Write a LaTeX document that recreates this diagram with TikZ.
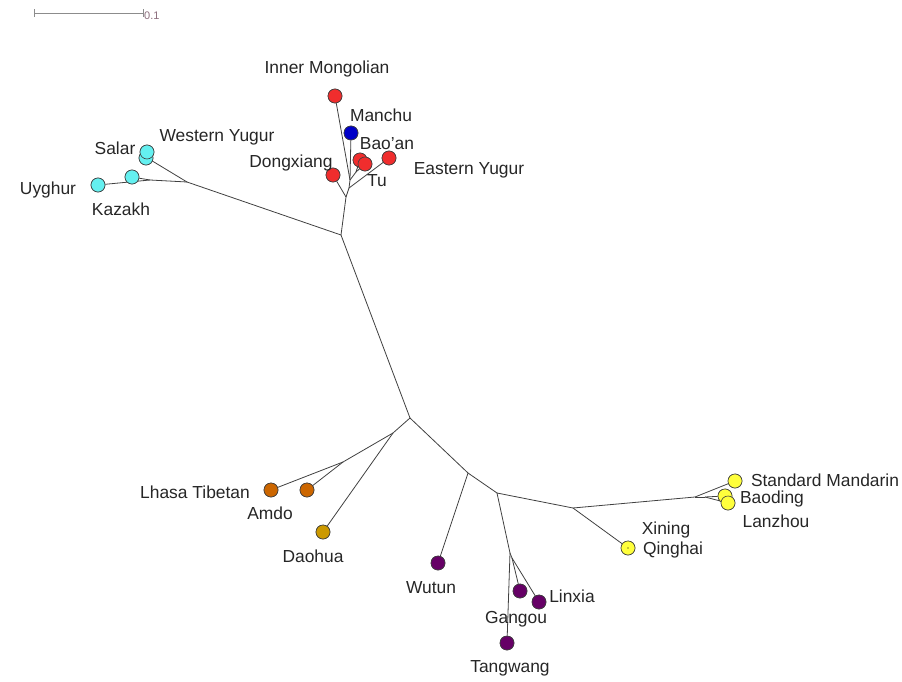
\documentclass[tikz,border=0pt]{standalone}
\usepackage{fontspec}
\setmainfont{Liberation Sans}
\definecolor{cyf}{RGB}{100,240,240}
\definecolor{rdf}{RGB}{240,45,45}
\definecolor{blf}{RGB}{0,0,200}
\definecolor{tbf}{RGB}{204,102,0}
\definecolor{dhf}{RGB}{204,153,0}
\definecolor{puf}{RGB}{102,0,102}
\definecolor{ylf}{RGB}{255,255,60}
\definecolor{sbc}{RGB}{140,140,140}
\definecolor{sbt}{RGB}{140,110,125}
\begin{document}
\begin{tikzpicture}[x=1pt,y=-1pt,
  br/.style={draw=black!75,line width=0.8pt},
  leaf/.style={circle,draw=black!75,line width=0.6pt,minimum size=14pt,inner sep=0pt},
  lab/.style={font=\fontsize{17.4}{20}\selectfont,text=black!85,inner sep=0pt}]
\useasboundingbox (0,0) rectangle (902,682);
% scale bar
\coordinate (sb1) at (34,13);
\coordinate (sb2) at (143,13);
\draw[draw=sbc,line width=0.8pt] (sb1) -- (sb2);
\draw[draw=sbc,line width=0.8pt] ([yshift=-4]sb1) -- ([yshift=4]sb1);
\draw[draw=sbc,line width=0.8pt] ([yshift=-4]sb2) -- ([yshift=4]sb2);
\node[anchor=west,font=\fontsize{11}{13}\selectfont,text=sbt,inner sep=0pt] (sbl) at (144,16) {0.1};
% internal nodes
\coordinate (A) at (341,235);
\coordinate (B) at (410,418);
\coordinate (T) at (187,182);
\coordinate (Tk) at (150,180);
\coordinate (Ts) at (149,159);
\coordinate (M1) at (346,197);
\coordinate (M2) at (349,188);
\coordinate (M3) at (350,180);
\coordinate (M4) at (356,172);
\coordinate (T1) at (393,433);
\coordinate (T2) at (343,462);
\coordinate (S1) at (468,473);
\coordinate (S2) at (497,493);
\coordinate (G1) at (510,553);
\coordinate (G2) at (512,558);
\coordinate (S3) at (573,508);
\coordinate (Md) at (695,497);
\coordinate (Md2) at (705,497);
% leaves
\node[leaf,fill=cyf] (salar) at (147,152) {};
\node[leaf,fill=cyf] (wyugur) at (146,158) {};
\node[leaf,fill=cyf] (kazakh) at (132,177) {};
\node[leaf,fill=cyf] (uyghur) at (98,185) {};
\node[leaf,fill=rdf] (inner) at (335,96) {};
\node[leaf,fill=blf] (manchu) at (351,133) {};
\node[leaf,fill=rdf] (dong) at (333,175) {};
\node[leaf,fill=rdf] (baoan) at (360,160) {};
\node[leaf,fill=rdf] (tu) at (365,164) {};
\node[leaf,fill=rdf] (eyugur) at (389,158) {};
\node[leaf,fill=tbf] (lhasa) at (271,490) {};
\node[leaf,fill=tbf] (amdo) at (307,490) {};
\node[leaf,fill=dhf] (daohua) at (323,532) {};
\node[leaf,fill=puf] (wutun) at (438,563) {};
\node[leaf,fill=puf] (gangou) at (520,591) {};
\node[leaf,fill=puf] (linxia) at (539,602) {};
\node[leaf,fill=puf] (tangwang) at (507,643) {};
\node[leaf,fill=ylf] (qinghai) at (628,548) {};
\node[leaf,fill=ylf] (mandarin) at (735,481) {};
\node[leaf,fill=ylf] (baoding) at (725,496) {};
\node[leaf,fill=ylf] (lanzhou) at (728,503) {};
% branches
\draw[br] (A) -- (B);
\draw[br] (A) -- (T);
\draw[br] (T) -- (Tk);
\draw[br] (Tk) -- (kazakh);
\draw[br] (Tk) -- (uyghur);
\draw[br] (T) -- (Ts);
\draw[br] (A) -- (M1);
\draw[br] (M1) -- (dong);
\draw[br] (M1) -- (M2);
\draw[br] (M2) -- (eyugur);
\draw[br] (M2) -- (M3);
\draw[br] (M3) -- (inner);
\draw[br] (M3) -- (manchu);
\draw[br] (M3) -- (M4);
\draw[br] (M4) -- (baoan);
\draw[br] (M4) -- (tu);
\draw[br] (B) -- (T1);
\draw[br] (T1) -- (daohua);
\draw[br] (T1) -- (T2);
\draw[br] (T2) -- (lhasa);
\draw[br] (T2) -- (amdo);
\draw[br] (B) -- (S1);
\draw[br] (S1) -- (wutun);
\draw[br] (S1) -- (S2);
\draw[br] (S2) -- (G1);
\draw[br] (G1) -- (tangwang);
\draw[br] (G1) -- (G2);
\draw[br] (G2) -- (gangou);
\draw[br] (G2) -- (linxia);
\draw[br] (S2) -- (S3);
\draw[br] (S3) -- (qinghai);
\draw[br] (S3) -- (Md);
\draw[br] (Md) -- (mandarin);
\draw[br] (Md) -- (Md2);
\draw[br] (Md2) -- (baoding);
\draw[br] (Md2) -- (lanzhou);
% redraw leaves on top
\foreach \n/\c in {wyugur/cyf,salar/cyf,kazakh/cyf,uyghur/cyf,inner/rdf,dong/rdf,baoan/rdf,tu/rdf,eyugur/rdf,lhasa/tbf,amdo/tbf,daohua/dhf,wutun/puf,gangou/puf,linxia/puf,tangwang/puf,qinghai/ylf,mandarin/ylf,baoding/ylf,lanzhou/ylf,manchu/blf}
  \fill[\c,draw=black!75,line width=0.6pt] (\n) circle (7pt);
\fill[black] (qinghai) circle (0.7pt);
% labels
\node[lab] (lsalar) at (115,148) {Salar};
\node[lab] (lwy) at (217,137) {Western Yugur};
\node[lab] (luy) at (48,190) {Uyghur};
\node[lab] (lkz) at (121,209) {Kazakh};
\node[lab] (lim) at (327,69) {Inner Mongolian};
\node[lab] (lma) at (381,115) {Manchu};
\node[lab] (lba) at (387,144) {Bao'an};
\node[lab] (ldx) at (291,163) {Dongxiang};
\node[lab] (ltu) at (377,181) {Tu};
\node[lab] (ley) at (469,170) {Eastern Yugur};
\node[lab] (llh) at (195,492) {Lhasa Tibetan};
\node[lab] (lam) at (270,513) {Amdo};
\node[lab] (ldh) at (313,556) {Daohua};
\node[lab] (lwu) at (431,588) {Wutun};
\node[lab] (lga) at (516,619) {Gangou};
\node[lab] (lli) at (572,596) {Linxia};
\node[lab] (lta) at (510,668) {Tangwang};
\node[lab] (lxi) at (666,530) {Xining};
\node[lab] (lqh) at (673,550) {Qinghai};
\node[lab] (lsm) at (825,480) {Standard Mandarin};
\node[lab] (lbd) at (772,499) {Baoding};
\node[lab] (llz) at (776,521) {Lanzhou};
\end{tikzpicture}
\end{document}
